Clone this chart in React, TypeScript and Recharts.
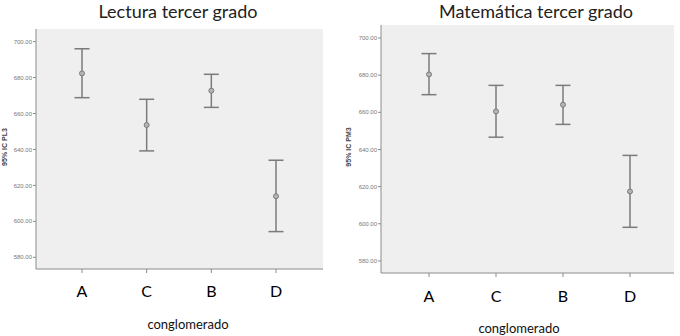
import React from "react";
import {
  ComposedChart,
  Scatter,
  ErrorBar,
  XAxis,
  YAxis,
  CartesianGrid,
} from "recharts";

const categories = ["A", "C", "B", "D"];
const yTicks = [580, 600, 620, 640, 660, 680, 700];

const lecturaMean = [682.3, 653.6, 672.7, 614.0];
const lecturaLower = [668.8, 639.2, 663.4, 594.3];
const lecturaUpper = [696.0, 667.9, 681.8, 634.0];

const mateMean = [680.4, 660.5, 664.1, 617.4];
const mateLower = [669.5, 646.6, 653.5, 598.1];
const mateUpper = [691.6, 674.5, 674.5, 636.8];

const Y_DOMAIN: [number, number] = [573.5, 707];
const BAR_COLOR = "#7b7b7b";
const FRAME = "#8c8c8c";
const FONT = "Lato, 'Open Sans', sans-serif";

function buildData(mean: number[], lower: number[], upper: number[]) {
  return categories.map((c, i) => ({
    cat: c,
    mean: mean[i],
    err: [mean[i] - lower[i], upper[i] - mean[i]],
  }));
}

const MeanDot = (props: { cx?: number; cy?: number }) => {
  const { cx, cy } = props;
  if (cx == null || cy == null) return null;
  return <circle cx={cx} cy={cy} r={2.5} fill="#b5b5b5" stroke={BAR_COLOR} strokeWidth={1} />;
};

interface PanelProps {
  left: number;
  title: string;
  yLabel: string;
  data: ReturnType<typeof buildData>;
  margin: { top: number; right: number; bottom: number; left: number };
  yWidth: number;
  xPad: { left: number; right: number };
  tickMargin: number;
  titleX: number;
  xTitleX: number;
  xTitleY: number;
  yLabelX: number;
}

function Panel(p: PanelProps) {
  return (
    <div style={{ position: "absolute", left: p.left, top: 0, width: 340, height: 336 }}>
      <ComposedChart width={340} height={336} data={p.data} margin={p.margin}>
        <CartesianGrid horizontal={false} vertical={false} fill="#efefef" fillOpacity={1} />
        <XAxis
          dataKey="cat"
          type="category"
          padding={p.xPad}
          axisLine={{ stroke: FRAME }}
          tickLine={{ stroke: FRAME }}
          tickSize={4}
          tickMargin={p.tickMargin}
          height={30}
          tick={{ fill: "#000", fontSize: 16, fontFamily: FONT }}
        />
        <XAxis
          xAxisId="top"
          orientation="top"
          dataKey="cat"
          type="category"
          padding={p.xPad}
          height={0}
          tick={false}
          tickLine={false}
          axisLine={{ stroke: FRAME }}
        />
        <YAxis
          type="number"
          domain={Y_DOMAIN}
          ticks={yTicks}
          width={p.yWidth}
          axisLine={{ stroke: FRAME }}
          tickLine={{ stroke: FRAME }}
          tickSize={3}
          tickMargin={1}
          tickFormatter={(v: number) => v.toFixed(2)}
          tick={{ fill: "#777", fontSize: 6, fontFamily: "Arial, 'Liberation Sans', sans-serif" }}
        />
        <YAxis
          yAxisId="right"
          orientation="right"
          type="number"
          domain={Y_DOMAIN}
          width={0}
          tick={false}
          tickLine={false}
          axisLine={{ stroke: FRAME }}
        />
        <Scatter dataKey="mean" shape={<MeanDot />} isAnimationActive={false}>
          <ErrorBar
            dataKey="err"
            direction="y"
            width={7.5}
            stroke={BAR_COLOR}
            strokeWidth={1.5}
            isAnimationActive={false}
          />
        </Scatter>
      </ComposedChart>
      <div
        style={{
          position: "absolute",
          left: p.titleX - 150,
          width: 300,
          top: 0,
          textAlign: "center",
          fontFamily: FONT,
          fontSize: 18,
          color: "#222",
        }}
      >
        {p.title}
      </div>
      <div
        style={{
          position: "absolute",
          left: p.xTitleX - 100,
          width: 200,
          top: p.xTitleY - 9,
          textAlign: "center",
          fontFamily: FONT,
          fontSize: 13,
          color: "#111",
        }}
      >
        conglomerado
      </div>
      <div
        style={{
          position: "absolute",
          left: p.yLabelX - 40,
          top: 142,
          width: 80,
          textAlign: "center",
          transform: "rotate(-90deg)",
          fontFamily: "Arial, 'Liberation Sans', sans-serif",
          fontWeight: "bold",
          fontSize: 7,
          color: "#444",
          lineHeight: "10px",
        }}
      >
        {p.yLabel}
      </div>
    </div>
  );
}

export default function App() {
  return (
    <div style={{ position: "absolute", left: 0, top: 0, width: 680, height: 336, background: "#fff" }}>
      <Panel
        left={0}
        title="Lectura tercer grado"
        yLabel="95% IC PL3"
        data={buildData(lecturaMean, lecturaLower, lecturaUpper)}
        margin={{ top: 29, right: 17, bottom: 37, left: 0 }}
        yWidth={36}
        xPad={{ left: 46, right: 47 }}
        tickMargin={13}
        titleX={178}
        xTitleX={188}
        xTitleY={325}
        yLabelX={5}
      />
      <Panel
        left={340}
        title="Matemática tercer grado"
        yLabel="95% IC PM3"
        data={buildData(mateMean, mateLower, mateUpper)}
        margin={{ top: 25, right: 6, bottom: 33, left: 0 }}
        yWidth={41}
        xPad={{ left: 48, right: 44 }}
        tickMargin={14}
        titleX={196}
        xTitleX={179}
        xTitleY={329}
        yLabelX={9}
      />
    </div>
  );
}
